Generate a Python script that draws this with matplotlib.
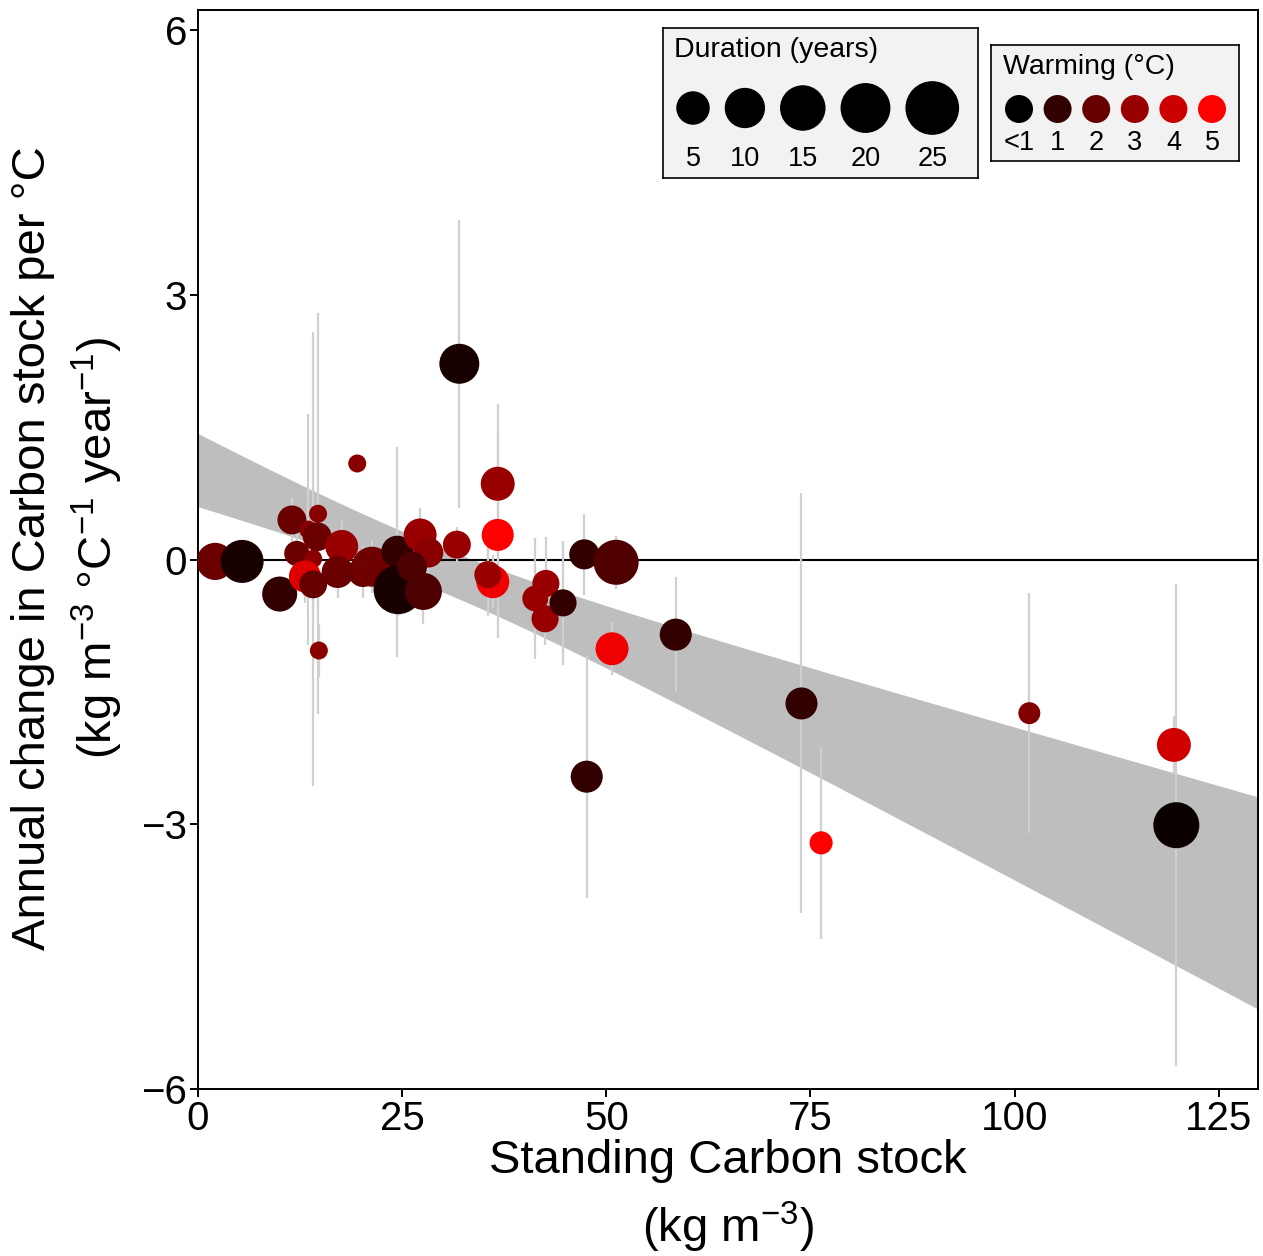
import numpy as np
import matplotlib
matplotlib.use('Agg')
import matplotlib.pyplot as plt
from matplotlib.colors import LinearSegmentedColormap, Normalize

plt.rcParams['font.family'] = ['Liberation Sans', 'DejaVu Sans']
plt.rcParams['mathtext.fontset'] = 'custom'
plt.rcParams['mathtext.rm'] = 'Liberation Sans'
plt.rcParams['mathtext.it'] = 'Liberation Sans:italic'

# standing carbon stock (kg m-3)
stock = [2.1, 5.4, 10.0, 11.5, 14.7, 13.5, 14.6, 12.1, 14.1, 13.1,
         14.1, 17.6, 17.1, 20.2, 21.3, 24.4, 24.5, 27.6, 27.2, 28.2,
         26.2, 19.5, 14.8, 32.0, 31.7, 36.7, 36.7, 36.1, 35.5, 42.6,
         41.3, 42.5, 44.7, 47.3, 51.2, 50.7, 47.6, 58.5, 73.9, 76.3,
         101.8, 119.5, 119.8]
# annual change per degree
change = [-0.02, -0.02, -0.39, 0.45, 0.52, 0.34, 0.26, 0.07, 0.01, -0.19,
          -0.28, 0.15, -0.14, -0.14, -0.08, 0.09, -0.34, -0.36, 0.28, 0.08,
          -0.08, 1.09, -1.03, 2.22, 0.17, 0.86, 0.28, -0.25, -0.17, -0.27,
          -0.44, -0.67, -0.49, 0.06, -0.03, -1.01, -2.46, -0.85, -1.63, -3.21,
          -1.74, -2.10, -3.01]
# half width of the interval
err = [0.0, 0.0, 0.0, 0.25, 2.27, 1.31, 0.3, 0.3, 2.57, 0.3,
       0.3, 0.3, 0.3, 0.3, 0.3, 1.19, 0.3, 0.37, 0.3, 0.3,
       0.3, 0.0, 0.3, 1.63, 0.2, 0.9, 1.17, 0.3, 0.47, 0.53,
       0.69, 0.3, 0.7, 0.46, 0.3, 0.3, 1.37, 0.65, 2.38, 1.09,
       1.36, 0.33, 2.73]
# experiment duration (years)
duration = [7.5, 12.5, 6, 2.7, 0.4, 0.4, 2.7, 1.4, 0.4, 4.2,
            2.3, 4.7, 4.2, 3.2, 9.7, 4.2, 19, 7.4, 4.7, 3.2,
            3.2, 0.4, 0.4, 9.7, 2.3, 5.3, 4.2, 4.7, 2, 2,
            1.6, 2, 2, 3.2, 14.5, 4.7, 4.2, 4.2, 4.2, 0.9,
            0.7, 5.3, 15.5]
# warming (deg C)
warming = [2.1, 0.5, 1.0, 2.1, 2.7, 2.6, 2.1, 2.1, 2.7, 4.3,
           2.0, 3.0, 2.1, 2.0, 2.2, 1.0, 0.5, 1.5, 3.0, 2.7,
           1.5, 2.7, 2.7, 0.5, 3.0, 3.0, 5.0, 4.7, 3.0, 3.0,
           3.0, 3.0, 1.0, 1.0, 1.6, 4.7, 1.0, 1.0, 1.0, 5.0,
           2.5, 4.1, 0.2]

# regression band (fit)
fit_intercept = 1.015
fit_slope = -0.0378
fit_xmean = 28.5
fit_a = 0.0625
fit_b = 1.349e-4

dur_breaks = [5, 10, 15, 20, 25]
warm_breaks = [0, 1, 2, 3, 4, 5]
warm_labels = ['<1', '1', '2', '3', '4', '5']

W, H = 1263, 1256
DPI = 100


def diam_px(d):
    return 18 + 7.2 * np.sqrt(np.maximum(np.asarray(d, float) - 0.4, 0))


def size_pt2(d):
    return (diam_px(d) * 72 / DPI) ** 2


cmap = LinearSegmentedColormap.from_list('warm', ['#000000', '#ff0000'])
norm = Normalize(0, 5)

fig = plt.figure(figsize=(W / DPI, H / DPI), dpi=DPI)
ax = fig.add_axes([198 / W, 1 - 1089 / H, 1060 / W, 1079 / H])

xs = np.linspace(0, 130, 200)
centre = fit_intercept + fit_slope * xs
half = np.sqrt(fit_a + fit_b * (xs - fit_xmean) ** 2)
ax.fill_between(xs, centre - half, centre + half, color='#bebebe', lw=0, zorder=1)
ax.axhline(0, color='black', lw=1.5, zorder=2)

x = np.array(stock)
y = np.array(change)
e = np.array(err)
ax.vlines(x, y - e, y + e, color='#d0d0d0', lw=1.6, zorder=3)
ax.scatter(x, y, s=size_pt2(duration), c=cmap(norm(np.array(warming))),
           linewidths=0, zorder=4)

ax.set_xlim(0, 129.8)
ax.set_ylim(-6, 6.23)
ax.set_xticks([0, 25, 50, 75, 100, 125])
ax.set_yticks([-6, -3, 0, 3, 6])
ax.tick_params(labelsize=29, length=6, width=1.4, color='black', pad=2)
for sp in ax.spines.values():
    sp.set_linewidth(1.4)

fig.text(68 / W, 1 - 548 / H,
         'Annual change in Carbon stock per °C\n'
         '(kg m$^{-3}$ °C$^{-1}$ year$^{-1}$)',
         rotation=90, ha='center', va='center', fontsize=34,
         multialignment='center', linespacing=1.35)
fig.text(728 / W, 1 - 1197 / H, 'Standing Carbon stock\n(kg m$^{-3}$)',
         ha='center', va='center', fontsize=34, multialignment='center',
         linespacing=1.38)

# duration legend
lg1 = fig.add_axes([663 / W, 1 - 178 / H, 315 / W, 150 / H])
lg1.set_xlim(0, 315)
lg1.set_ylim(150, 0)
lg1.set_facecolor('#f2f2f2')
lg1.set_xticks([])
lg1.set_yticks([])
for sp in lg1.spines.values():
    sp.set_linewidth(1.2)
dd = diam_px(dur_breaks)
pos = np.cumsum(dd + 15) - dd / 2
pos = pos - pos[0] + 30
lg1.scatter(pos, [80] * len(dd), s=size_pt2(dur_breaks), c='black', linewidths=0)
for p, lab in zip(pos, dur_breaks):
    lg1.text(p, 131, str(lab), ha='center', va='center', fontsize=19.5)
lg1.text(11, 22, 'Duration (years)', ha='left', va='center', fontsize=20.5)

# warming legend
lg2 = fig.add_axes([991 / W, 1 - 161 / H, 248 / W, 116 / H])
lg2.set_xlim(0, 248)
lg2.set_ylim(116, 0)
lg2.set_facecolor('#f2f2f2')
lg2.set_xticks([])
lg2.set_yticks([])
for sp in lg2.spines.values():
    sp.set_linewidth(1.2)
wpos = 28 + 38.6 * np.arange(len(warm_breaks))
lg2.scatter(wpos, [64] * len(wpos), s=(28 * 72 / DPI) ** 2,
            c=cmap(norm(np.array(warm_breaks))), linewidths=0)
for p, lab in zip(wpos, warm_labels):
    lg2.text(p, 98, lab, ha='center', va='center', fontsize=19.5)
lg2.text(12, 22, 'Warming (°C)', ha='left', va='center', fontsize=20.5)

fig.savefig('out.png', dpi=DPI)
